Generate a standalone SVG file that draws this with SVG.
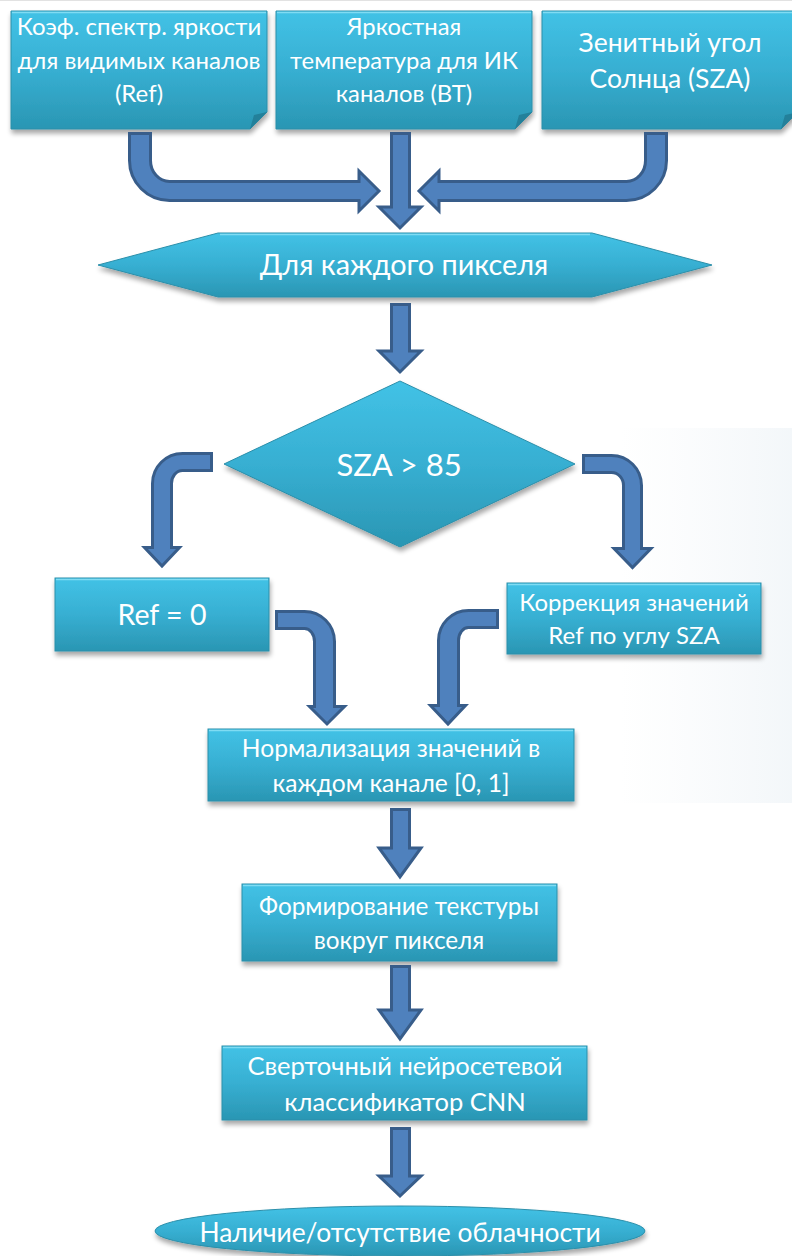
<svg xmlns="http://www.w3.org/2000/svg" width="792" height="1256" viewBox="0 0 792 1256">
<defs>
<linearGradient id="gBox" x1="0" y1="0" x2="0" y2="1">
<stop offset="0" stop-color="#42C2E6"/>
<stop offset="0.5" stop-color="#37AFD2"/>
<stop offset="1" stop-color="#2A96B3"/>
</linearGradient>
<linearGradient id="gPanel" x1="0" y1="0" x2="1" y2="0">
<stop offset="0" stop-color="#EEF3F7" stop-opacity="0"/>
<stop offset="1" stop-color="#E9F0F5" stop-opacity="0.55"/>
</linearGradient>
<filter id="sh" x="-10%" y="-20%" width="120%" height="150%">
<feGaussianBlur in="SourceAlpha" stdDeviation="2.5"/>
<feOffset dx="1" dy="4" result="b"/>
<feComponentTransfer><feFuncA type="linear" slope="0.35"/></feComponentTransfer>
<feMerge><feMergeNode/><feMergeNode in="SourceGraphic"/></feMerge>
</filter>
</defs>
<style>
.box{fill:url(#gBox);stroke:#2C8FAA;stroke-width:1;filter:url(#sh)}
.hl{stroke:#7FDCF3;stroke-width:1.5;fill:none}
.fold{fill:#23809A}
.t{font-family:Lato,"Liberation Sans",sans-serif;fill:#FFFFFF;text-anchor:middle}
.arr{fill:#4F81BD;stroke:#385D8A;stroke-width:3;stroke-linejoin:miter}
</style>
<rect x="0" y="0" width="792" height="1256" fill="#FFFFFF"/>
<line x1="0" y1="0.5" x2="792" y2="0.5" stroke="#E2E2E2"/>
<rect x="620" y="428" width="172" height="375" fill="url(#gPanel)"/>

<g id="n-ref-input">
<path class="box" d="M11 11 H267 V112 L250 129 H11 Z"/>
<path class="fold" d="M250 129 L254 115 L267 112 Z"/>
<line class="hl" x1="12" y1="12.5" x2="266" y2="12.5"/>
<text class="t" x="139" y="35" font-size="24">Коэф. спектр. яркости</text>
<text class="t" x="139" y="69" font-size="24">для видимых каналов</text>
<text class="t" x="139" y="102" font-size="24">(Ref)</text>
</g>
<g id="n-bt-input">
<path class="box" d="M276 11 H532 V112 L515 129 H276 Z"/>
<path class="fold" d="M515 129 L519 115 L532 112 Z"/>
<line class="hl" x1="277" y1="12.5" x2="531" y2="12.5"/>
<text class="t" x="404" y="35" font-size="23.8">Яркостная</text>
<text class="t" x="404" y="69" font-size="23.8">температура для ИК</text>
<text class="t" x="404" y="102" font-size="23.8">каналов (BT)</text>
</g>
<g id="n-sza-input">
<path class="box" d="M542 11 H798 V112 L781 129 H542 Z"/>
<path class="fold" d="M781 129 L785 115 L798 112 Z"/>
<line class="hl" x1="543" y1="12.5" x2="797" y2="12.5"/>
<text class="t" x="670" y="52" font-size="26.5">Зенитный угол</text>
<text class="t" x="670" y="88" font-size="26.5">Солнца (SZA)</text>
</g>

<g id="n-each-pixel">
<path class="box" d="M98 265 L218 233 H592 L712 265 L592 297 H218 Z"/>
<path class="hl" d="M220 234.5 H590"/>
<text class="t" x="404" y="275" font-size="28.8">Для каждого пикселя</text>
</g>

<g id="n-sza-decision">
<path class="box" d="M400 381 L575 464 L400 547 L224 464 Z"/>
<text class="t" x="399" y="476" font-size="31">SZA &gt; 85</text>
</g>

<g id="n-ref-zero">
<rect class="box" x="55" y="578" width="214" height="73"/>
<line class="hl" x1="56" y1="579.5" x2="268" y2="579.5"/>
<text class="t" x="162" y="625" font-size="28.5">Ref = 0</text>
</g>

<g id="n-correction">
<rect class="box" x="507" y="583" width="254" height="71"/>
<line class="hl" x1="508" y1="584.5" x2="760" y2="584.5"/>
<text class="t" x="634" y="611" font-size="24">Коррекция значений</text>
<text class="t" x="634" y="644" font-size="24">Ref по углу SZA</text>
</g>

<g id="n-normalize">
<rect class="box" x="208" y="729" width="366" height="72"/>
<line class="hl" x1="209" y1="730.5" x2="573" y2="730.5"/>
<text class="t" x="391" y="757" font-size="24.6">Нормализация значений в</text>
<text class="t" x="391" y="792" font-size="24.6">каждом канале [0, 1]</text>
</g>

<g id="n-texture">
<rect class="box" x="242" y="884" width="315" height="77"/>
<line class="hl" x1="243" y1="885.5" x2="556" y2="885.5"/>
<text class="t" x="399" y="915" font-size="24.3">Формирование текстуры</text>
<text class="t" x="399" y="949" font-size="24.3">вокруг пикселя</text>
</g>

<g id="n-cnn">
<rect class="box" x="222" y="1046" width="365" height="74"/>
<line class="hl" x1="223" y1="1047.5" x2="586" y2="1047.5"/>
<text class="t" x="405" y="1075" font-size="25.5">Сверточный нейросетевой</text>
<text class="t" x="405" y="1111" font-size="25.5">классификатор CNN</text>
</g>

<g id="n-result">
<ellipse class="box" cx="400" cy="1231" rx="245" ry="25"/>
<text class="t" x="400" y="1242" font-size="26.4">Наличие/отсутствие облачности</text>
</g>

<g id="connectors">
<path class="arr" d="M129.5 133.5 L129.5 160.5 A40 40 0 0 0 169.5 200.5 L359 200.5 L359 211 L379 191 L359 171 L359 181.5 L169.5 181.5 A19 21 0 0 1 150.5 160.5 L150.5 133.5 Z"/>
<path class="arr" d="M666.5 133.5 L666.5 160.5 A40 40 0 0 1 626.5 200.5 L439 200.5 L439 211 L419 191 L439 171 L439 181.5 L626.5 181.5 A19 21 0 0 0 645.5 160.5 L645.5 133.5 Z"/>
<path class="arr" d="M391.5 133.5 L409.5 133.5 L409.5 207 L421 207 L400 228 L379 207 L391.5 207 Z"/>
<path class="arr" d="M391.5 304.5 L409.5 304.5 L409.5 351 L421 351 L400 372 L379 351 L391.5 351 Z"/>
<path class="arr" d="M211.5 453.5 L182.5 453.5 A30 30 0 0 0 152.5 483.5 L152.5 547.5 L144.5 547.5 L162 566 L179.5 547.5 L171.5 547.5 L171.5 483.5 A11 13 0 0 1 182.5 470.5 L211.5 470.5 Z"/>
<path class="arr" d="M583.5 455.5 L611.5 455.5 A30 30 0 0 1 641.5 485.5 L641.5 548.5 L651 548.5 L632.5 567.5 L614 548.5 L623.5 548.5 L623.5 485.5 A12 13 0 0 0 611.5 472.5 L583.5 472.5 Z"/>
<path class="arr" d="M276.5 611.5 L304.5 611.5 A30 30 0 0 1 334.5 641.5 L334.5 706.5 L344.5 706.5 L327 724 L309.5 706.5 L314.5 706.5 L314.5 641.5 A10 13 0 0 0 304.5 628.5 L276.5 628.5 Z"/>
<path class="arr" d="M497.5 610.5 L468.5 610.5 A30 30 0 0 0 438.5 640.5 L438.5 705.5 L430.5 705.5 L448 724 L465.5 705.5 L458.5 705.5 L458.5 640.5 A10 13 0 0 1 468.5 627.5 L497.5 627.5 Z"/>
<path class="arr" d="M391.5 809.5 L409.5 809.5 L409.5 848 L421 848 L400 877 L379 848 L391.5 848 Z"/>
<path class="arr" d="M391.5 966.5 L409.5 966.5 L409.5 1010 L421 1010 L400 1039 L379 1010 L391.5 1010 Z"/>
<path class="arr" d="M391.5 1128.5 L409.5 1128.5 L409.5 1176 L421 1176 L400 1196 L379 1176 L391.5 1176 Z"/>
</g>
</svg>
